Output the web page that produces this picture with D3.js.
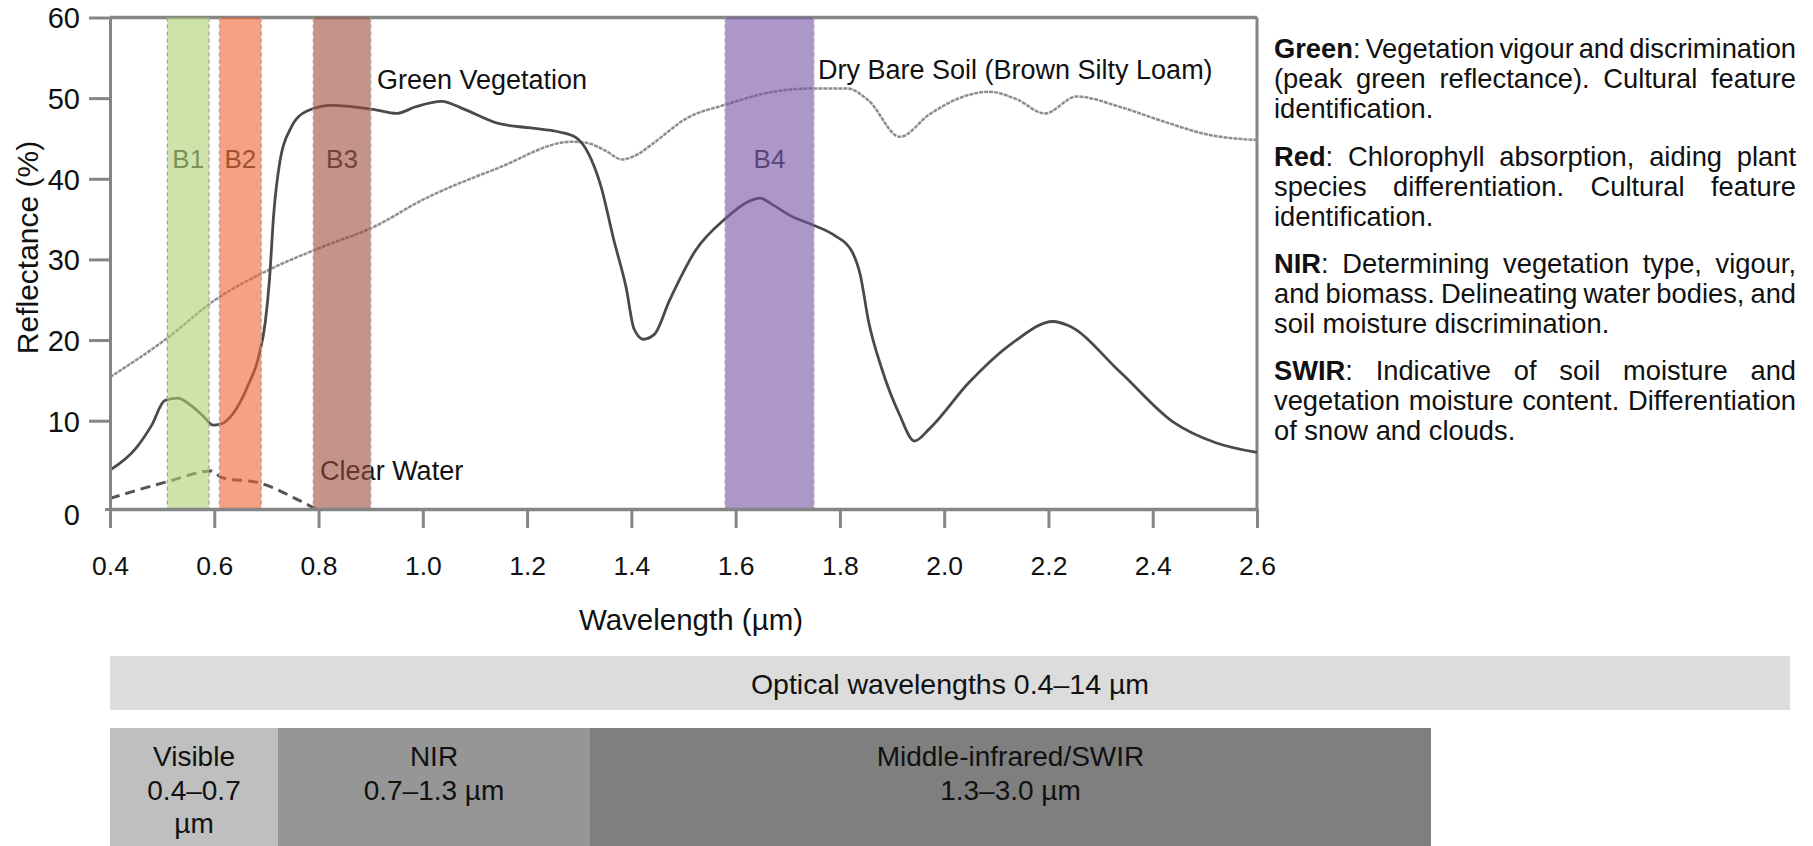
<!DOCTYPE html>
<html>
<head>
<meta charset="utf-8">
<script src="https://cdn.jsdelivr.net/npm/d3@7"></script>
<style>
  html, body { margin: 0; padding: 0; background: #fff; }
  svg { display: block; font-family: "Liberation Sans", Arial, Helvetica, sans-serif; }
</style>
</head>
<body>
<svg id="chart" width="1813" height="846"></svg>
<script>
// ---- Spectral reflectance curves (wavelength in µm, reflectance in %) ----
const vegWavelength = [0.400, 0.450, 0.480, 0.505, 0.530, 0.555, 0.580, 0.597, 0.612, 0.635,
  0.665, 0.685, 0.698, 0.706, 0.714, 0.726, 0.746, 0.778, 0.826, 0.905,
  0.950, 0.985, 1.036, 1.080, 1.143, 1.207, 1.262, 1.294, 1.318, 1.342,
  1.366, 1.390, 1.405, 1.423, 1.444, 1.473, 1.523, 1.581, 1.622, 1.647,
  1.673, 1.706, 1.747, 1.789, 1.822, 1.839, 1.855, 1.880, 1.914, 1.943,
  1.972, 2.047, 2.130, 2.209, 2.238, 2.338, 2.438, 2.521, 2.600];
const vegReflectance = [4.4, 6.9, 9.5, 12.5, 12.8, 11.9, 10.5, 9.5, 9.6, 10.8,
  14.4, 17.9, 22.3, 27.6, 35.6, 42.2, 46.2, 48.4, 49.1, 48.6,
  48.1, 48.9, 49.6, 48.6, 46.9, 46.3, 45.8, 45.1, 43.1, 39.0,
  32.5, 26.5, 21.4, 20.1, 20.7, 24.9, 31.1, 35.1, 37.1, 37.6,
  36.7, 35.4, 34.3, 33.0, 31.1, 28.1, 22.3, 16.5, 10.8, 7.7,
  9.1, 14.7, 19.6, 22.3, 21.8, 16.0, 9.9, 7.5, 6.4];

const soilWavelength = [0.400, 0.507, 0.602, 0.698, 0.809, 0.905, 1.000, 1.143, 1.286, 1.318,
  1.350, 1.382, 1.414, 1.440, 1.506, 1.581, 1.673, 1.747, 1.814, 1.855,
  1.915, 1.972, 2.047, 2.085, 2.138, 2.193, 2.254, 2.338, 2.421, 2.504, 2.600];
const soilReflectance = [15.4, 20.1, 25.0, 28.5, 31.6, 34.0, 37.4, 41.3, 44.6, 44.4,
  43.5, 42.4, 43.1, 44.3, 47.5, 49.2, 50.8, 51.2, 51.2, 49.7,
  45.2, 48.0, 50.4, 50.8, 49.9, 48.1, 50.2, 48.9, 47.1, 45.5, 44.8];

const waterWavelength = [0.400, 0.510, 0.595, 0.613, 0.690, 0.713, 0.755, 0.795];
const waterReflectance = [1.2, 3.1, 4.3, 3.6, 2.9, 2.4, 1.2, 0.0];

// ---- Sensor bands ----
const bandNames = ["B1", "B2", "B3", "B4"];
const bandStart = [0.51, 0.61, 0.79, 1.58];
const bandEnd = [0.59, 0.69, 0.90, 1.75];
const bandColors = ["#acd071", "#ee6232", "#9d4d3c", "#7650a3"];
const bandLabelLevel = 41.3;

// ---- Axes ----
const xTicks = [0.4, 0.6, 0.8, 1.0, 1.2, 1.4, 1.6, 1.8, 2.0, 2.2, 2.4, 2.6];
const yTicks = [0, 10, 20, 30, 40, 50, 60];
const xTitle = "Wavelength (µm)";
const yTitle = "Reflectance (%)";

// ---- Curve annotations (anchored in data space) ----
const curveLabelText = ["Green Vegetation", "Dry Bare Soil (Brown Silty Loam)", "Clear Water"];
const curveLabelWl = [0.912, 1.758, 0.803];
const curveLabelR = [51.1, 52.4, 3.3];

// ---- Band usage notes ----
const noteTerms = ["Green", "Red", "NIR", "SWIR"];
const noteLines = [
  [": Vegetation vigour and discrimination", "(peak green reflectance). Cultural feature", "identification."],
  [": Chlorophyll absorption, aiding plant", "species differentiation. Cultural feature", "identification."],
  [": Determining vegetation type, vigour,", "and biomass. Delineating water bodies, and", "soil moisture discrimination."],
  [": Indicative of soil moisture and", "vegetation moisture content. Differentiation", "of snow and clouds."]
];

// ---- Spectral regions ----
const opticalLabel = "Optical wavelengths 0.4–14 µm";
const opticalRange = [0.4, 14];
const regionLines = [["Visible", "0.4–0.7", "µm"], ["NIR", "0.7–1.3 µm"], ["Middle-infrared/SWIR", "1.3–3.0 µm"]];
const regionStart = [0.4, 0.7, 1.3];
const regionEnd = [0.7, 1.3, 3.0];
const regionColors = ["#bfbfbf", "#969696", "#7f7f7f"];

// ================= drawing =================
const svg = d3.select("#chart");
const FONT_DARK = "#111";
const AXIS_GREY = "#858585";

const x = d3.scaleLinear().domain([0.4, 2.6]).range([110, 1257]);
// printed axis spacing is slightly wider between 0 and 10
const y = d3.scaleLinear().domain([0, 10, 60]).range([509, 420.7, 17.5]);

const zip = (a, b) => a.map((v, i) => [v, b[i]]);
const line = d3.line().x(d => x(d[0])).y(d => y(d[1])).curve(d3.curveMonotoneX);

const plot = svg.append("g");

// frame (top and right borders)
plot.append("line").attr("x1", x(0.4)).attr("x2", x(2.6)).attr("y1", y(60)).attr("y2", y(60))
  .attr("stroke", AXIS_GREY).attr("stroke-width", 3.5);
plot.append("line").attr("x1", x(2.6)).attr("x2", x(2.6)).attr("y1", y(60)).attr("y2", y(0))
  .attr("stroke", AXIS_GREY).attr("stroke-width", 3);

// curves
plot.append("path").datum(zip(soilWavelength, soilReflectance)).attr("d", line)
  .attr("fill", "none").attr("stroke", "#8e8e8e").attr("stroke-width", 2.5)
  .attr("stroke-dasharray", "4 1");
plot.append("path").datum(zip(vegWavelength, vegReflectance)).attr("d", line)
  .attr("fill", "none").attr("stroke", "#4a4a4a").attr("stroke-width", 2.8);
plot.append("path").datum(zip(waterWavelength, waterReflectance)).attr("d", line)
  .attr("fill", "none").attr("stroke", "#555").attr("stroke-width", 3)
  .attr("stroke-dasharray", "10 6");

// curve labels
plot.selectAll("text.curve-label").data(curveLabelText).join("text")
  .attr("class", "curve-label")
  .attr("x", (d, i) => x(curveLabelWl[i]))
  .attr("y", (d, i) => y(curveLabelR[i]))
  .attr("font-size", 27).attr("fill", FONT_DARK)
  .text(d => d);

// band labels (sit under the translucent band fill)
plot.selectAll("text.band-label").data(bandNames).join("text")
  .attr("class", "band-label")
  .attr("x", (d, i) => (x(bandStart[i]) + x(bandEnd[i])) / 2)
  .attr("y", y(bandLabelLevel))
  .attr("text-anchor", "middle")
  .attr("font-size", 26).attr("fill", "#333")
  .text(d => d);

// band fills
plot.selectAll("rect.band").data(bandNames).join("rect")
  .attr("class", "band")
  .attr("x", (d, i) => x(bandStart[i]))
  .attr("width", (d, i) => x(bandEnd[i]) - x(bandStart[i]))
  .attr("y", y(60)).attr("height", y(0) - y(60))
  .attr("fill", (d, i) => bandColors[i]).attr("fill-opacity", 0.6);

// dashed band edges
const edges = bandStart.concat(bandEnd);
plot.selectAll("line.edge").data(edges).join("line")
  .attr("class", "edge")
  .attr("x1", d => x(d)).attr("x2", d => x(d))
  .attr("y1", y(60)).attr("y2", y(0))
  .attr("stroke", "#a5a5a5").attr("stroke-width", 1.3).attr("stroke-dasharray", "4 3");

// y axis
const yAxisG = plot.append("g").attr("transform", `translate(${x(0.4)},0)`)
  .call(d3.axisLeft(y).tickValues(yTicks).tickSize(21).tickSizeOuter(0).tickPadding(9));
yAxisG.select(".domain").attr("stroke", AXIS_GREY).attr("stroke-width", 3);
yAxisG.selectAll(".tick line").attr("stroke", AXIS_GREY).attr("stroke-width", 3)
  .attr("x2", d => d === 0 ? -5 : -21);
yAxisG.selectAll(".tick text").attr("font-size", 29).attr("fill", FONT_DARK)
  .attr("font-family", null)
  .attr("dy", d => d === 0 ? "0.55em" : "0.36em");

// x axis
const xAxisG = plot.append("g").attr("transform", `translate(0,${y(0)})`)
  .call(d3.axisBottom(x).tickValues(xTicks).tickSize(19).tickSizeOuter(0)
    .tickFormat(d3.format(".1f")));
xAxisG.select(".domain").attr("stroke", AXIS_GREY).attr("stroke-width", 3.5);
xAxisG.selectAll(".tick line").attr("stroke", AXIS_GREY).attr("stroke-width", 3);
xAxisG.selectAll(".tick text").attr("font-size", 26.5).attr("fill", FONT_DARK)
  .attr("font-family", null).attr("y", 66).attr("dy", 0);

// axis titles
svg.append("text").attr("x", 691).attr("y", 630).attr("text-anchor", "middle")
  .attr("font-size", 29.5).attr("fill", FONT_DARK).text(xTitle);
svg.append("text").attr("transform", "translate(38,247.5) rotate(-90)").attr("text-anchor", "middle")
  .attr("font-size", 30).attr("fill", FONT_DARK).text(yTitle);

// ---- notes panel (justified) ----
const notes = svg.append("g").attr("font-size", 27.3).attr("fill", FONT_DARK);
const NOTE_X = 1274, NOTE_W = 522, NOTE_TOP = 58.3, NOTE_LINE = 30, NOTE_PARA = 107.3;

function appendWord(parent, segs) {
  const t = parent.append("text");
  segs.forEach(s => t.append("tspan").attr("font-weight", s.b ? "bold" : null).text(s.t));
  return t;
}
function measure(segs) {
  const t = appendWord(notes, segs);
  const w = t.node().getComputedTextLength();
  t.remove();
  return w;
}
const spaceW = measure([{ t: "a a", b: false }]) - measure([{ t: "aa", b: false }]);

noteTerms.forEach((term, pi) => {
  const lines = noteLines[pi];
  lines.forEach((ln, li) => {
    const words = ln.split(" ").map(w => [{ t: w, b: false }]);
    if (li === 0) words[0].unshift({ t: term, b: true });
    const widths = words.map(measure);
    const total = d3.sum(widths);
    const last = li === lines.length - 1;
    const gap = (!last && words.length > 1) ? (NOTE_W - total) / (words.length - 1) : spaceW;
    let cx = NOTE_X;
    const yy = NOTE_TOP + pi * NOTE_PARA + li * NOTE_LINE;
    words.forEach((segs, wi) => {
      appendWord(notes, segs).attr("x", cx).attr("y", yy);
      cx += widths[wi] + gap;
    });
  });
});

// ---- spectral region bars ----
const opt = d3.scaleLinear().domain(opticalRange).range([110, 1790]);
svg.append("rect").attr("x", opt(opticalRange[0])).attr("width", opt(opticalRange[1]) - opt(opticalRange[0]))
  .attr("y", 656).attr("height", 54).attr("fill", "#dcdcdc");
svg.append("text").attr("x", (opt(opticalRange[0]) + opt(opticalRange[1])) / 2).attr("y", 693.5)
  .attr("text-anchor", "middle").attr("font-size", 28.5).attr("fill", FONT_DARK).text(opticalLabel);

// region widths follow the printed proportions
const reg = d3.scaleLinear().domain([0.4, 0.7, 1.3, 3.0]).range([110, 278, 590, 1431]);
const regionG = svg.selectAll("g.region").data(regionLines).join("g").attr("class", "region");
regionG.append("rect")
  .attr("x", (d, i) => reg(regionStart[i]))
  .attr("width", (d, i) => reg(regionEnd[i]) - reg(regionStart[i]))
  .attr("y", 728).attr("height", 846 - 728)
  .attr("fill", (d, i) => regionColors[i]);
regionG.each(function (d, i) {
  const cx = (reg(regionStart[i]) + reg(regionEnd[i])) / 2;
  d3.select(this).selectAll("text").data(d).join("text")
    .attr("x", cx).attr("y", (t, k) => 766 + k * 33.7)
    .attr("text-anchor", "middle").attr("font-size", 28).attr("fill", FONT_DARK)
    .text(t => t);
});
</script>
</body>
</html>
